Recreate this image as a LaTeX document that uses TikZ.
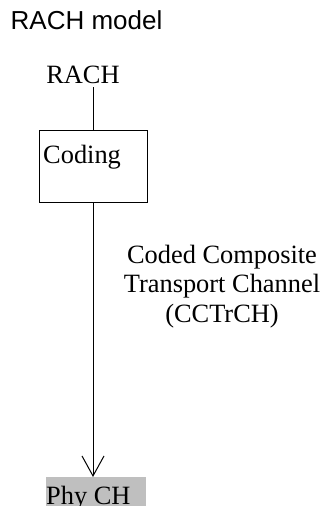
\documentclass[tikz,border=0pt]{standalone}
\usepackage{fontspec}
\setmainfont{Liberation Serif}
\newfontfamily\titlefont{Liberation Sans}
\usetikzlibrary{arrows.meta}
\begin{document}
\begin{tikzpicture}[x=1pt,y=-1pt,
  lbl/.style={inner sep=0pt,font=\fontsize{26.4}{29.2}\selectfont},
  codingbox/.style={draw,line width=1pt,minimum width=108pt,minimum height=72pt,inner sep=0pt},
  phybox/.style={fill=black!25,inner xsep=0pt,inner ysep=0pt,minimum width=100pt,minimum height=40pt,anchor=north west,text width=100pt,align=left},
  conn/.style={line width=1pt},
  arr/.style={line width=1pt,-{Straight Barb[length=20pt,width=22pt,line width=1pt]}}]
\useasboundingbox (0,0) rectangle (326,506);
\node[inner sep=0pt,anchor=base west,font=\titlefont\fontsize{26}{29}\selectfont] (title) at (10.5,29) {RACH model};
\node[lbl,anchor=base,inner ysep=4pt] (rach) at (83,83) {RACH};
\node[codingbox] (coding) at (93,166) {};
\node[lbl,anchor=base west] (codingtxt) at (43,163) {Coding};
\node[phybox] (phy) at (46,477) {};
\node[lbl,anchor=base west] (phytxt) at (46,504) {Phy CH};
\node[lbl,align=center,anchor=base] (cctrch) at (222,322) {Coded Composite\\Transport Channel\\(CCTrCH)};
\draw[conn] (coding.north |- rach.south) -- (coding.north);
\draw[arr] (coding.south) -- (coding.south |- phy.north);
\end{tikzpicture}
\end{document}
